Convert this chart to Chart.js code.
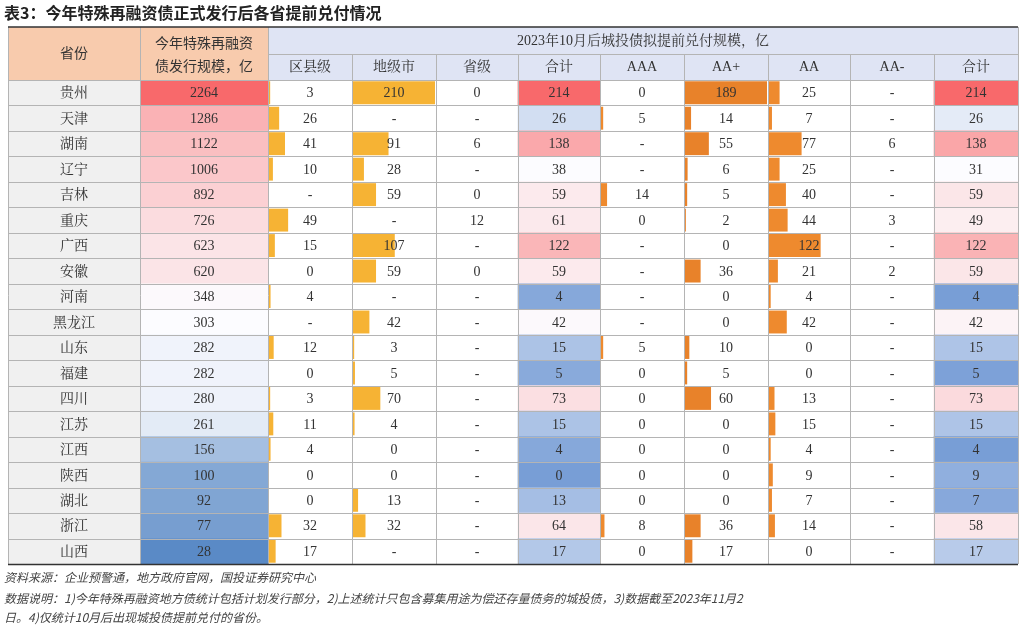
<!DOCTYPE html>
<html>
<head>
<meta charset="utf-8">
<script src="https://cdn.jsdelivr.net/npm/chart.js@4.4.0/dist/chart.umd.min.js"></script>
<style>
  body { margin: 0; background: #fff; }
</style>
</head>
<body>
<canvas id="chart" width="1026" height="627"></canvas>
<script>
const provinces = ['贵州','天津','湖南','辽宁','吉林','重庆','广西','安徽','河南','黑龙江','山东','福建','四川','江苏','江西','陕西','湖北','浙江','山西'];
const issue = [2264,1286,1122,1006,892,726,623,620,348,303,282,282,280,261,156,100,92,77,28];
const county = [3,26,41,10,'-',49,15,0,4,'-',12,0,3,11,4,0,0,32,17];
const city = [210,'-',91,28,59,'-',107,59,'-',42,3,5,70,4,0,0,13,32,'-'];
const provLevel = [0,'-',6,'-',0,12,'-',0,'-','-','-','-','-','-','-','-','-','-','-'];
const total1 = [214,26,138,38,59,61,122,59,4,42,15,5,73,15,4,0,13,64,17];
const aaa = [0,5,'-','-',14,0,'-','-','-','-',5,0,0,0,0,0,0,8,0];
const aaPlus = [189,14,55,6,5,2,0,36,0,0,10,5,60,0,0,0,0,36,17];
const aa = [25,7,77,25,40,44,122,21,4,42,0,0,13,15,4,9,7,14,0];
const aaMinus = ['-','-',6,'-','-',3,'-',2,'-','-','-','-','-','-','-','-','-','-','-'];
const total2 = [214,26,138,31,59,49,122,59,4,42,15,5,73,15,4,9,7,58,17];
const subHeaders = ['区县级','地级市','省级','合计','AAA','AA+','AA','AA-','合计'];

// column edges in pixel units (x scale is set to match the canvas)
const edges = [8,140,268,352,436,518,600,684,768,850,934,1018];
const columns = [provinces, issue, county, city, provLevel, total1, aaa, aaPlus, aa, aaMinus, total2];

function lerp(a, b, t) { return a.map((v, i) => Math.round(v + (b[i] - v) * t)); }
function scaleColors(vals, blue) {
  const sorted = [...vals].sort((a, b) => a - b);
  const min = sorted[0], max = sorted[sorted.length - 1];
  const mid = sorted[Math.floor(sorted.length / 2)];
  const red = [248,105,107], white = [252,252,255];
  return vals.map(v => {
    let c;
    if (v >= mid) c = lerp(white, red, max === mid ? 0 : (v - mid) / (max - mid));
    else c = lerp(white, blue, (mid - v) / (mid - min));
    return `rgb(${c.join(',')})`;
  });
}
const num = v => (typeof v === 'number' ? v : 0);

function cellDataset(col, colors) {
  return {
    data: provinces.map(() => [edges[col], edges[col + 1]]),
    backgroundColor: colors, grouped: false, order: 2,
    barPercentage: 1, categoryPercentage: 1
  };
}
function barDataset(col, vals, max, color) {
  const w = edges[col + 1] - edges[col] - 2;
  return {
    data: vals.map(v => [edges[col] + 1, edges[col] + 1 + num(v) / max * w]),
    backgroundColor: color, grouped: false, order: 1,
    barPercentage: 1, categoryPercentage: 0.9
  };
}

const datasets = [
  cellDataset(0, '#f0f0f0'),
  cellDataset(1, scaleColors(issue, [90,138,198])),
  cellDataset(5, scaleColors(total1, [120,158,214])),
  cellDataset(10, scaleColors(total2, [120,158,214])),
  barDataset(2, county, 210, '#f6b334'),
  barDataset(3, city, 210, '#f6b334'),
  barDataset(6, aaa, 189, '#ee8a2e'),
  barDataset(7, aaPlus, 189, '#e8822a'),
  barDataset(8, aa, 189, '#ee8a2e')
];

const serif = '"Liberation Serif", "Noto Serif CJK SC", "Noto Sans CJK SC", serif';

const tablePlugin = {
  id: 'table',
  afterDatasetsDraw(chart) {
    const ctx = chart.ctx;
    const xs = chart.scales.x, ys = chart.scales.y;
    const top = chart.chartArea.top, bottom = chart.chartArea.bottom;
    const rowH = (bottom - top) / provinces.length;
    ctx.save();
    // header backgrounds
    ctx.fillStyle = '#f8cbad';
    ctx.fillRect(xs.getPixelForValue(edges[0]), 27, xs.getPixelForValue(edges[2]) - xs.getPixelForValue(edges[0]), top - 27);
    ctx.fillStyle = '#dfe4f4';
    ctx.fillRect(xs.getPixelForValue(edges[2]), 27, xs.getPixelForValue(edges[11]) - xs.getPixelForValue(edges[2]), top - 27);
    // grid
    ctx.strokeStyle = '#b4b4b4';
    ctx.lineWidth = 1;
    ctx.beginPath();
    edges.forEach((e, i) => {
      const x = xs.getPixelForValue(e) + 0.5;
      const y0 = (i >= 3 && i <= 10) ? 54 : 27;
      ctx.moveTo(x, y0); ctx.lineTo(x, bottom);
    });
    ctx.moveTo(xs.getPixelForValue(edges[2]), 54.5); ctx.lineTo(xs.getPixelForValue(edges[11]), 54.5);
    for (let r = 0; r <= provinces.length; r++) {
      const y = Math.round(top + r * rowH) + 0.5;
      ctx.moveTo(xs.getPixelForValue(edges[0]), y); ctx.lineTo(xs.getPixelForValue(edges[11]), y);
    }
    ctx.stroke();
    ctx.strokeStyle = '#333';
    ctx.lineWidth = 1.5;
    ctx.beginPath();
    ctx.moveTo(8, 27); ctx.lineTo(1018, 27);
    ctx.moveTo(8, bottom + 0.5); ctx.lineTo(1018, bottom + 0.5);
    ctx.stroke();
    // header text
    ctx.fillStyle = '#333';
    ctx.textAlign = 'center';
    ctx.textBaseline = 'middle';
    ctx.font = '14px "Noto Sans CJK SC", sans-serif';
    ctx.fillText('省份', (edges[0] + edges[1]) / 2, 53);
    ctx.fillText('今年特殊再融资', (edges[1] + edges[2]) / 2, 43);
    ctx.fillText('债发行规模，亿', (edges[1] + edges[2]) / 2, 66);
    ctx.font = '14px ' + serif;
    ctx.fillText('2023年10月后城投债拟提前兑付规模，亿', (edges[2] + edges[11]) / 2, 41);
    subHeaders.forEach((h, i) => ctx.fillText(h, (edges[i + 2] + edges[i + 3]) / 2, 67));
    // cells
    ctx.font = '14px ' + serif;
    columns.forEach((vals, c) => {
      const cx = xs.getPixelForValue((edges[c] + edges[c + 1]) / 2);
      vals.forEach((v, r) => {
        ctx.fillText(String(v), cx, ys.getPixelForValue(r) + 1);
      });
    });
    // title and notes
    ctx.textAlign = 'left';
    ctx.font = 'bold 16px "Noto Sans CJK SC", sans-serif';
    ctx.fillStyle = '#222';
    ctx.fillText('表3：今年特殊再融资债正式发行后各省提前兑付情况', 4, 13);
    ctx.font = 'italic 12px "Noto Sans CJK SC", sans-serif';
    ctx.fillStyle = '#444';
    ctx.fillText('资料来源：企业预警通，地方政府官网，国投证券研究中心', 4, 577);
    ctx.fillText('数据说明：1)今年特殊再融资地方债统计包括计划发行部分，2)上述统计只包含募集用途为偿还存量债务的城投债，3)数据截至2023年11月2', 4, 598);
    ctx.fillText('日。4)仅统计10月后出现城投债提前兑付的省份。', 4, 617);
    ctx.restore();
  }
};

new Chart(document.getElementById('chart'), {
  type: 'bar',
  data: { labels: provinces, datasets },
  options: {
    responsive: false,
    animation: false,
    indexAxis: 'y',
    layout: { padding: { top: 80, bottom: 63, left: 8, right: 8 } },
    scales: {
      x: { type: 'linear', min: 8, max: 1018, display: false },
      y: { type: 'category', display: false }
    },
    plugins: { legend: { display: false }, tooltip: { enabled: false } }
  },
  plugins: [tablePlugin]
});
</script>
</body>
</html>
